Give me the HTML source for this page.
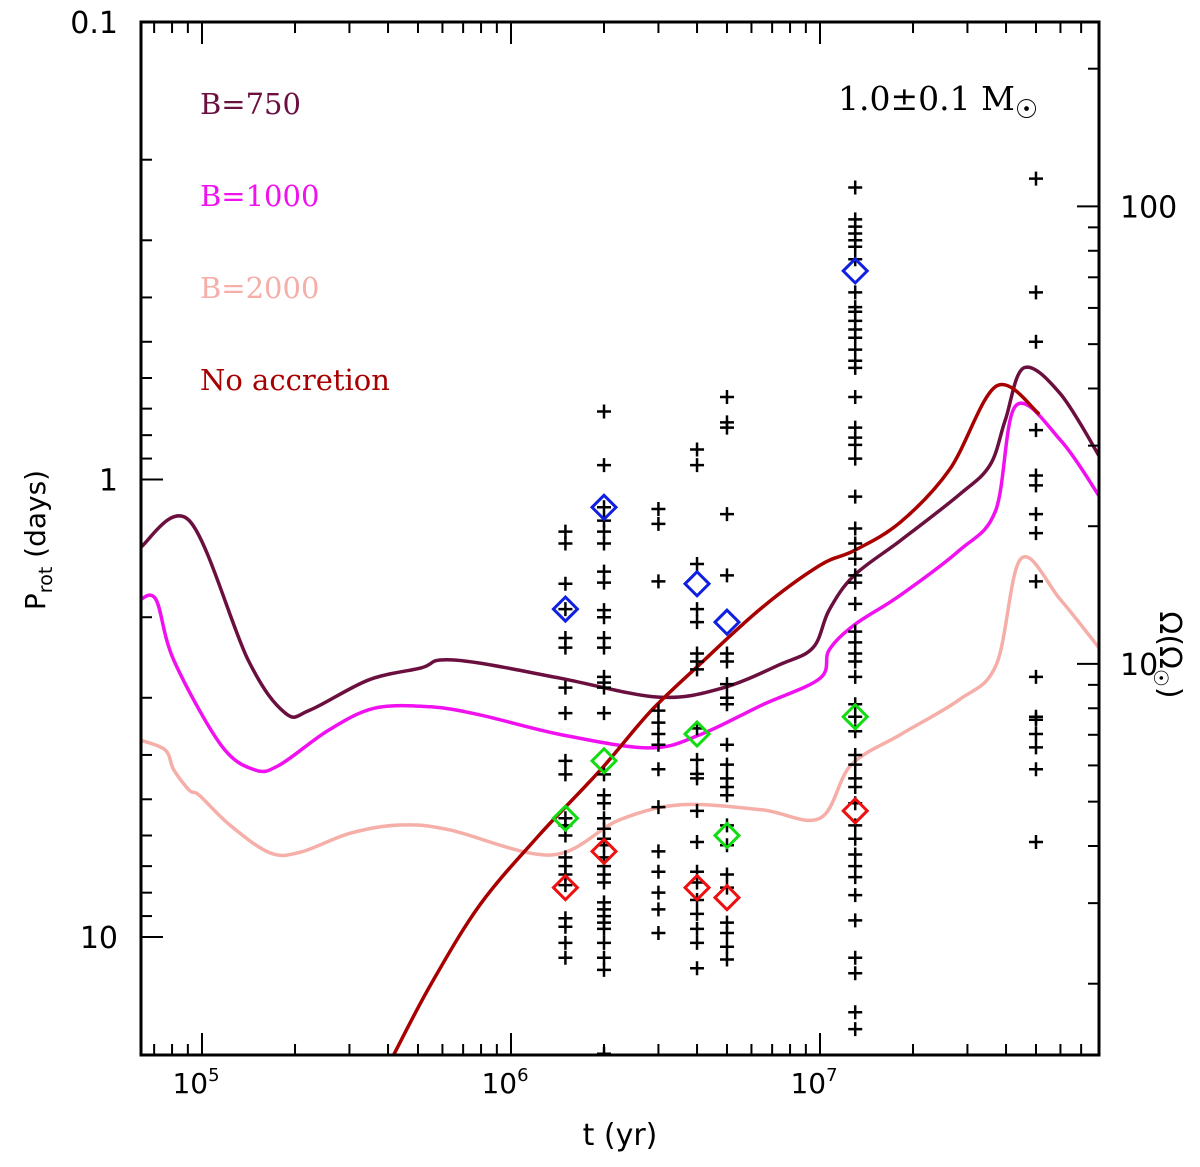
<!DOCTYPE html>
<html><head><meta charset="utf-8"><style>
body{margin:0;background:#fff;}
svg text{font-family:"DejaVu Sans","Liberation Sans",sans-serif;}
.lg{font-family:"DejaVu Serif","Liberation Serif",serif;font-size:29px;}
</style></head><body>
<svg id="chart" width="1200" height="1162" viewBox="0 0 1200 1162" xmlns="http://www.w3.org/2000/svg">
<g id="marks"></g>
<g id="axes"></g>
<text class="lg" x="200" y="114" fill="#6b0f3f">B=750</text>
<text class="lg" x="200" y="206" fill="#f010f0">B=1000</text>
<text class="lg" x="200" y="298" fill="#f5aea8">B=2000</text>
<text class="lg" x="200" y="390" fill="#a80000">No accretion</text>
<text class="lg" x="838" y="110" fill="#000" style="font-size:33px">1.0±0.1 M<tspan font-size="26" dy="8">☉</tspan></text>
<text x="620" y="1145" font-size="30" text-anchor="middle" font-family="DejaVu Serif,serif">t (yr)</text>
<text transform="translate(45,540) rotate(-90)" font-size="28" text-anchor="middle" font-family="DejaVu Serif,serif">P<tspan font-size="19" dy="7">rot</tspan><tspan dy="-7"> (days)</tspan></text>
<text transform="translate(1160,655) rotate(90)" font-size="30" text-anchor="middle" font-family="DejaVu Serif,serif">Ω(Ω<tspan font-size="20" dy="6">☉</tspan><tspan dy="-6">)</tspan></text>
</svg>
<script>
// ---- data ----
const tB750 = [63000,91000,141000,186000,224000,347000,513000,589000,794000,1.45e6,3.0e6,4.8e6,7.4e6,9.5e6,1.07e7,1.29e7,1.82e7,2.82e7,3.55e7,3.98e7,4.57e7,6.0e7,8.1e7];
const pB750 = [1.41,1.23,2.48,3.24,3.19,2.74,2.58,2.48,2.52,2.72,2.99,2.86,2.54,2.33,1.93,1.62,1.36,1.08,0.93,0.74,0.57,0.65,0.90];
const tB1000 = [63000,71000,81000,115000,148000,178000,257000,363000,550000,794000,1.45e6,2.8e6,4.1e6,6.5e6,1.0e7,1.07e7,1.29e7,1.82e7,2.82e7,3.7e7,4.3e7,6.0e7,8.1e7];
const pB1000 = [1.83,1.83,2.48,3.80,4.31,4.21,3.53,3.16,3.14,3.27,3.61,3.86,3.61,3.11,2.72,2.36,2.08,1.79,1.43,1.17,0.69,0.82,1.10];
const tB2000 = [63000,76000,81000,91000,98000,123000,166000,209000,302000,437000,631000,1.35e6,2.24e6,3.55e6,6.46e6,1.0e7,1.26e7,1.82e7,2.82e7,3.72e7,4.47e7,6.0e7,8.1e7];
const pB2000 = [3.71,3.90,4.31,4.78,4.90,5.69,6.55,6.52,5.93,5.69,5.83,6.62,5.55,5.14,5.27,5.50,4.21,3.61,3.03,2.54,1.49,1.83,2.36];
const tNoAcc = [417000,550000,794000,1.23e6,1.95e6,2.82e6,4.07e6,6.46e6,1.0e7,1.29e7,1.82e7,2.63e7,3.72e7,5.13e7];
const pNoAcc = [18.1,12.7,8.5,6.0,4.31,3.22,2.54,1.91,1.54,1.43,1.24,0.95,0.625,0.72];

const clusterAges = [1.5e6,2e6,3e6,4e6,5e6,1.3e7,5e7];
const clusterPeriods = [
 [1.30,1.38,1.69,1.92,2.22,2.33,2.85,3.24,4.12,4.41,5.5,5.7,6.0,6.7,7.0,7.3,7.7,9.1,9.5,10.3,11.1],
 [0.71,0.93,1.15,1.23,1.30,1.38,1.59,1.68,1.93,2.0,2.22,2.33,2.7,2.78,2.85,3.24,4.41,4.9,5.1,5.5,5.8,6.1,6.3,6.7,7.0,7.3,7.6,8.4,8.7,9.0,9.3,9.6,10.3,11.1,11.8,18],
 [1.16,1.25,1.67,3.2,3.4,3.6,3.8,4.3,5.2,6.5,7.2,8.0,8.7,9.8],
 [0.86,0.93,1.53,1.92,2.05,2.4,2.5,2.6,3.5,4.1,4.4,4.5,5.3,6.2,7.2,7.6,8.3,8.9,9.6,10.3,11.7],
 [0.66,0.75,0.77,1.19,1.62,2.4,2.5,2.8,3.0,3.1,3.8,4.2,4.5,4.7,4.9,5.7,6.3,7.3,7.8,9.3,9.8,10.5,11.2],
 [0.23,0.27,0.28,0.29,0.30,0.31,0.33,0.39,0.42,0.43,0.45,0.47,0.49,0.52,0.55,0.57,0.66,0.77,0.81,0.84,0.90,1.09,1.28,1.38,1.49,1.62,1.68,1.87,2.15,2.27,2.4,2.5,2.7,3.1,3.3,3.55,4.0,4.2,4.5,4.7,5.1,5.7,6.1,6.6,7.0,7.4,8.1,9.2,11.1,12.0,14.6,15.9],
 [0.22,0.39,0.50,0.78,0.98,1.03,1.19,1.31,1.67,2.7,3.3,3.35,3.6,3.85,4.3,6.2]
];
const diamondAges = [1.5e6,2e6,4e6,5e6,1.3e7];
const diamondBlue = [1.92,1.15,1.69,2.05,0.35];
const diamondGreen = [5.5,4.12,3.6,6.0,3.3];
const diamondRed = [7.8,6.5,7.8,8.2,5.3];

const xTickLabels = ["10","10","10"];
const xTickExp = [5,6,7];
const yTickVals = [0.1,1,10];
const yTickLabels = ["0.1","1","10"];
const omegaTickVals = [10,100];
const omegaTickLabels = ["10","100"];
const PSUN = 25.3;

// ---- scales ----
const L=141,R=1099,T=22,B=1055;
const X0=202, XD=309;
const Y0=22, YD=457.5;
function xs(t){return X0+(Math.log10(t)-5)*XD;}
function ys(p){return Y0+(Math.log10(p)+1)*YD;}
const NS="http://www.w3.org/2000/svg";
function mk(tag,attrs,parent){const e=document.createElementNS(NS,tag);for(const k in attrs)e.setAttribute(k,attrs[k]);parent.appendChild(e);return e;}
const marks=document.getElementById('marks');
const axes=document.getElementById('axes');

const defs=mk('defs',{},marks);
const cp=mk('clipPath',{id:'cp'},defs);
mk('rect',{x:L,y:T,width:R-L,height:B-T},cp);
const g=mk('g',{'clip-path':'url(#cp)'},marks);

function curve(ts,ps,color,w,name){
  const P=ts.map((t,i)=>[xs(t),ys(ps[i])]);
  let d='M'+P[0][0].toFixed(1)+','+P[0][1].toFixed(1);
  for(let i=0;i<P.length-1;i++){
    const p0=P[Math.max(0,i-1)],p1=P[i],p2=P[i+1],p3=P[Math.min(P.length-1,i+2)];
    const c1=[p1[0]+(p2[0]-p0[0])/6,p1[1]+(p2[1]-p0[1])/6];
    const c2=[p2[0]-(p3[0]-p1[0])/6,p2[1]-(p3[1]-p1[1])/6];
    d+=`C${c1[0].toFixed(1)},${c1[1].toFixed(1)} ${c2[0].toFixed(1)},${c2[1].toFixed(1)} ${p2[0].toFixed(1)},${p2[1].toFixed(1)}`;
  }
  const p=mk('path',{d:d,fill:'none',stroke:color,'stroke-width':w,'stroke-linejoin':'round'},g);
  
  
}
curve(tB2000,pB2000,'#f5aea8',3.5,'curve-b2000');
curve(tB1000,pB1000,'#f010f0',3.5,'curve-b1000');
curve(tB750,pB750,'#6b0f3f',3.5,'curve-b750');
curve(tNoAcc,pNoAcc,'#a80000',3.5,'curve-no-accretion');

clusterAges.forEach((a,ci)=>{
  const x=xs(a);
  clusterPeriods[ci].forEach(p=>{
    const y=ys(p);
    const pl=mk('path',{d:`M${x-7},${y}H${x+7}M${x},${y-7}V${y+7}`,stroke:'#000','stroke-width':2.5},g);
    
    
  });
});
function diamonds(vals,color,name){
  diamondAges.forEach((a,i)=>{
    const x=xs(a),y=ys(vals[i]);
    const d=mk('path',{d:`M${x},${y-12}L${x+12},${y}L${x},${y+12}L${x-12},${y}Z`,fill:'none',stroke:color,'stroke-width':3},g);
    
    
  });
}
diamonds(diamondBlue,'#1020e0','percentile-diamond-blue');
diamonds(diamondGreen,'#10dd10','percentile-diamond-green');
diamonds(diamondRed,'#ee1010','percentile-diamond-red');

const fr=mk('rect',{x:L,y:T,width:R-L,height:B-T,fill:'none',stroke:'#000','stroke-width':3},axes);



for(let e=4;e<=7;e++){for(let m=1;m<=9;m++){
  const x=xs(m*Math.pow(10,e)); if(x<L||x>R)continue;
  const len=m===1?22:11;
  mk('line',{x1:x,y1:B,x2:x,y2:B-len,stroke:'#000','stroke-width':2},axes);
  mk('line',{x1:x,y1:T,x2:x,y2:T+len,stroke:'#000','stroke-width':2},axes);
}}
xTickExp.forEach((e,i)=>{
  const t=mk('text',{x:xs(Math.pow(10,e))-6,y:1093,'font-size':28,'text-anchor':'middle','font-family':'DejaVu Serif,serif'},axes);
  t.textContent=xTickLabels[i];
  const s=mk('tspan',{'font-size':18,dy:-12},t); s.textContent=String(e);
  
  
});
for(let e=-1;e<=1;e++){for(let m=1;m<=9;m++){
  const y=ys(m*Math.pow(10,e)); if(y<T||y>B)continue;
  const len=m===1?22:11;
  mk('line',{x1:L,y1:y,x2:L+len,y2:y,stroke:'#000','stroke-width':2},axes);
}}
yTickVals.forEach((v,i)=>{
  const t=mk('text',{x:118,y:ys(v)+11,'font-size':30,'text-anchor':'end'},axes);
  t.textContent=yTickLabels[i];
  
  
});
for(let e=0;e<=2;e++){for(let m=1;m<=9;m++){
  const om=m*Math.pow(10,e); const y=ys(PSUN/om); if(y<T||y>B)continue;
  const len=m===1?22:11;
  mk('line',{x1:R,y1:y,x2:R-len,y2:y,stroke:'#000','stroke-width':2},axes);
}}
omegaTickVals.forEach((v,i)=>{
  const t=mk('text',{x:1120,y:ys(PSUN/v)+11,'font-size':30},axes);
  t.textContent=omegaTickLabels[i];
  
  
});
</script>
</body></html>
